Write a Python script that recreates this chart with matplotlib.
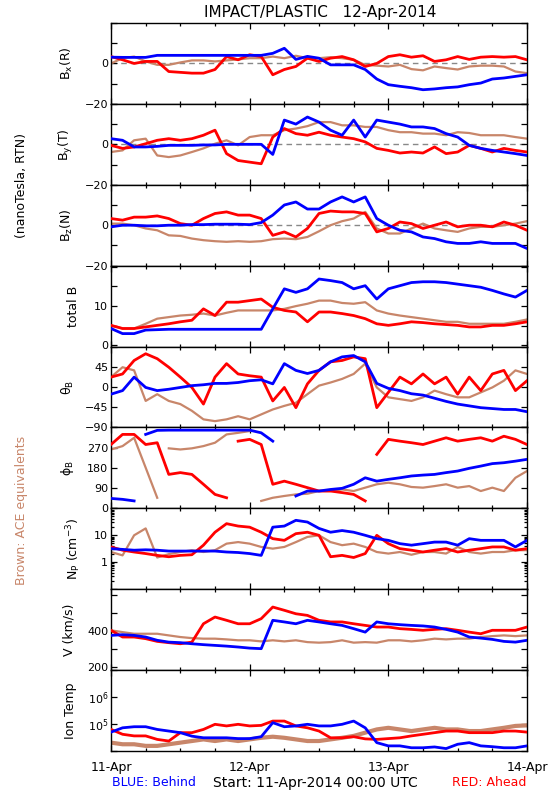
import numpy as np
import matplotlib.pyplot as plt
from matplotlib.ticker import FixedLocator, MultipleLocator, LogLocator, NullFormatter

plt.rcParams['font.family'] = ['DejaVu Sans']
plt.rcParams['mathtext.default'] = 'regular'

BLUE = '#0000ff'
RED = '#ff0000'
BROWN = '#c8866a'

# time axis: hours since 11-Apr-2014 00:00, one reading every 2 hours
hours = np.arange(0, 73, 2)
day_ticks = [0, 24, 48, 72]
day_labels = ['11-Apr', '12-Apr', '13-Apr', '14-Apr']

## magnetic field components (nT)
bx_blue = [3.1, 3, 3, 3, 4, 4, 4, 4, 4, 4, 4, 4, 4, 4, 5, 7.5, 2, 3.5, 2.6, -0.7, -0.7, -0.7, -3, -7.7,
           -10.5, -11.3, -12, -13, -12.6, -12, -11.6, -10.5, -9.7, -7.7, -7.2, -6.4, -5.6]
bx_red = [3.4, 1.8, 0, 1, 1, -4, -4.4, -4.8, -4.8, -3, 3.4, 1.8, 4.3, 3.4, -5.6, -3, -1.5, 2.6, 1, 2.6,
          3.4, 1.8, -1.5, 0, 3.4, 4.3, 3.1, 3.8, 1, 1.8, 3.4, 2, 3.1, 3.4, 3.1, 3.4, 1.8]
bx_ace = [0, 2.6, 3.4, 1, -0.7, -0.7, 0.5, 1.5, 1.5, 1, 1.5, 2, 2.6, 2.6, 3.4, 2.6, 3.8, 2.6, 2.6, 3.1,
          2.6, 1.8, -0.7, -1.1, -1.5, -0.7, -2.8, -3.4, -1.5, -2.3, -3, -1.5, -1.1, -1.1, -1.5, -4, -4.8]

by_blue = [2.8, 2, -1.3, -1.3, -1, -0.5, -0.5, -0.5, -0.3, -0.3, 0, 0, 0, 0, -5, 12, 10, 13.5, 11, 7,
           4.5, 12, 3.6, 12, 11, 10, 8.6, 8.6, 7.8, 5.3, 3.6, -0.5, -2, -3, -3.8, -4.6, -5.5]
by_red = [-0.5, -2, -1.3, 0.3, 2, 2.8, 2, 2.8, 4.5, 7, -4.6, -8, -8.8, -9.6, 3.6, 7.8, 5.3, 4.5, 6, 4.5,
          3.6, 2.8, 1.2, -2, -3, -4.3, -3.8, -4.3, -1.3, -4.6, -3.8, -0.5, -2, -3.8, -2, -3, -3.8]
by_ace = [-3.8, -3, 2, 2.8, -5.5, -6.3, -5.5, -3.8, -2, 0.3, 2, -0.5, 3.6, 4.5, 4.5, 7, 7.8, 9, 11, 11,
          9.4, 9.4, 8.6, 8.6, 7, 6, 6, 5.3, 5.3, 4.5, 6, 5.6, 4.5, 4.5, 4.5, 3.6, 2.8]

bz_blue = [-0.8, 0, 0, -0.3, -0.3, 0, 0, 0.3, 0.3, 0.5, 0.5, 0.5, 0.3, 1.3, 5, 10, 11.5, 8, 8, 11.5,
           14, 11.5, 14, 3.3, 0, -2.5, -3.3, -5.8, -6.6, -8.2, -9, -9, -8.2, -9, -9, -9, -11.5]
bz_red = [3.3, 2.5, 4, 4, 4.6, 3.3, 0.8, 0, 3.3, 5.8, 6.6, 5, 5, 3.3, -5, -3.3, -5.8, -1.6, 5.8, 7,
          6.6, 6.6, 5.8, -3.3, -1.6, 1.6, 0.8, -1.6, 0, 1.6, -0.8, 0, 0, -0.8, 1.6, 0, -2.5]
bz_ace = [0.8, 0.8, 0, -1.6, -2.5, -5, -5.3, -6.6, -7.4, -7.9, -8.2, -7.9, -8.2, -7.9, -6.9, -6.6, -6.9,
          -5.8, -3, 0, 2, 3.3, 6.6, -1.6, -4.1, -4.1, -1.6, 0.8, -1.6, -2.5, -3.3, -1.6, -0.8, -0.8, 0, 0.8, 2]

bt_blue = [4.3, 3, 3, 3.9, 4, 4.1, 4.1, 4.1, 4.1, 4.1, 4.1, 4.1, 4.1, 4.1, 9.3, 14.4, 13.5, 14.4, 16.9,
           16.5, 16, 14.4, 15.2, 11.8, 14.4, 15.2, 16, 16.2, 16.2, 16, 15.6, 15.2, 14.8, 14, 13.1, 12.3, 14]
bt_red = [5.1, 4.3, 4.3, 4.7, 5.1, 5.5, 6, 6.4, 9.3, 7.6, 11, 11, 11.4, 11.8, 9.7, 8.9, 8.5, 6, 8.5, 8.5,
          8.1, 7.6, 6.8, 5.5, 5.1, 5.5, 6, 5.8, 5.5, 5.3, 5.1, 4.7, 4.7, 5.1, 5.1, 5.5, 6]
bt_ace = [5.1, 4.3, 4.3, 5.5, 6.8, 7.2, 7.6, 7.8, 8.1, 7.6, 8.3, 8.9, 8.9, 8.9, 8.9, 9.3, 10, 10.6, 11.4,
          11.4, 10.8, 10.6, 11, 8.9, 8.1, 7.6, 7.2, 6.8, 6.4, 6, 6, 5.5, 5.5, 5.5, 5.5, 6, 6.6]

## field angles (deg)
th_blue = [-16, -8, 22, -1, -8, -5, -1, 3, 5, 8, 8, 10, 14, 16, 7, 52, 37, 30, 37, 56, 67, 70, 56, 8,
           -3, -8, -15, -18, -25, -32, -38, -42, -46, -48, -50, -50, -55]
th_red = [22, 29, 59, 74, 63, 44, 22, -1, -38, 22, 52, 29, 25, 22, -31, -1, -46, 7, 37, 56, 59, 67, 63,
          -46, -12, 22, 7, 29, 7, 22, -16, 22, -8, 29, 37, -8, 14]
th_ace = [22, 44, 37, -31, -16, -31, -38, -53, -72, -76, -72, -65, -72, -61, -50, -42, -35, -16, 3, 10,
          18, 29, 52, -1, -23, -27, -31, -23, -8, -16, -23, -23, -12, -1, 14, 37, 29]

ph_blue = [44, 40, 33, 329, 347, 348, 348, 348, 348, 348, 348, 348, 348, 336, 299, np.nan, 55, 77, 77,
           84, 89, 107, 136, 121, 129, 136, 144, 148, 151, 159, 166, 178, 188, 199, 203, 210, 218]
ph_red = [284, 329, 329, 284, 292, 151, 159, 151, 107, 62, 47, 299, 307, 284, 107, 121, 107, 92, 77, 77,
          70, 62, 33, 240, 307, 299, 292, 284, 299, 314, 299, 307, 314, 299, 321, 307, 284]
ph_ace = [262, 277, 314, 181, 47, 267, 262, 267, 277, 292, 329, 336, 344, 33, 47, 55, 62, 65, 77, 77, 84,
          77, 92, 107, 114, 107, 95, 92, 99, 107, 92, 99, 77, 92, 77, 136, 166]

## plasma
np_blue = [3.2, 3.0, 2.8, 2.9, 2.8, 2.6, 2.6, 2.6, 2.6, 2.6, 2.4, 2.3, 2.1, 1.8, 20, 22, 36, 31, 18, 13,
           15, 13, 10, 7.5, 6.5, 4.9, 4.3, 4.9, 5.6, 5.6, 4.3, 7.5, 6.5, 6.5, 6.5, 3.7, 6.5]
np_red = [3.7, 2.8, 2.4, 2.1, 1.8, 1.6, 1.8, 1.9, 4.3, 13, 27, 22, 20, 13, 7.5, 6.5, 11.5, 13, 10, 1.6,
          1.8, 1.5, 2.1, 10, 4.9, 3.2, 2.8, 2.4, 2.8, 3.2, 2.4, 2.8, 3.2, 3.7, 3.7, 2.8, 3.2]
np_ace = [2.4, 1.8, 10, 18, 1.5, 2.0, 2.4, 2.8, 2.4, 2.8, 4.9, 5.6, 4.9, 3.7, 3.2, 3.7, 5.6, 8.7, 10,
          5.6, 4.3, 4.9, 3.7, 2.4, 2.1, 2.4, 1.9, 2.4, 2.4, 2.1, 3.7, 2.4, 2.1, 2.4, 2.4, 2.8, 2.8]

v_blue = [376, 380, 376, 367, 349, 339, 336, 330, 325, 321, 317, 312, 306, 303, 459, 450, 440, 459, 450,
          440, 431, 413, 394, 450, 440, 435, 431, 428, 422, 409, 394, 367, 361, 354, 343, 339, 349]
v_red = [404, 367, 367, 358, 343, 336, 330, 339, 440, 477, 459, 440, 440, 468, 532, 514, 495, 486, 459,
         450, 450, 440, 431, 422, 422, 413, 409, 404, 409, 413, 404, 394, 385, 404, 404, 404, 422]
v_ace = [404, 394, 385, 385, 385, 376, 367, 361, 358, 358, 354, 349, 349, 343, 349, 343, 349, 339, 336,
         339, 349, 336, 339, 336, 349, 349, 343, 349, 358, 354, 358, 358, 367, 372, 376, 372, 376]

# ion temperature, log10(K)
lt_blue = [4.70, 4.86, 4.90, 4.90, 4.80, 4.74, 4.68, 4.55, 4.49, 4.49, 4.49, 4.46, 4.46, 4.53, 5.05, 4.90,
           4.93, 4.99, 4.93, 4.93, 4.99, 5.11, 4.86, 4.31, 4.19, 4.19, 4.12, 4.12, 4.15, 4.09, 4.25, 4.31,
           4.19, 4.16, 4.12, 4.12, 4.19]
lt_red = [4.80, 4.62, 4.56, 4.56, 4.43, 4.37, 4.68, 4.68, 4.80, 4.99, 4.93, 4.99, 4.93, 4.95, 5.11, 5.11,
          4.93, 4.86, 4.74, 4.49, 4.49, 4.53, 4.45, 4.43, 4.46, 4.49, 4.56, 4.62, 4.68, 4.74, 4.74, 4.68,
          4.68, 4.68, 4.74, 4.74, 4.70]
lt_ace = [4.31, 4.25, 4.25, 4.19, 4.19, 4.25, 4.31, 4.37, 4.43, 4.37, 4.43, 4.37, 4.43, 4.49, 4.53, 4.49,
          4.43, 4.37, 4.37, 4.43, 4.49, 4.56, 4.68, 4.80, 4.86, 4.80, 4.74, 4.80, 4.86, 4.80, 4.80, 4.74,
          4.74, 4.80, 4.86, 4.93, 4.95]


def wrap_breaks(x, y):
    # break the line where the angle wraps round 0/360
    x = np.asarray(x, float)
    y = np.asarray(y, float)
    idx = np.where(np.abs(np.diff(y)) > 180)[0] + 1
    return np.insert(x, idx, np.nan), np.insert(y, idx, np.nan)


fig = plt.figure(figsize=(5.5, 8), dpi=100)
W, H = 550.0, 800.0
left, width = 111 / W, 416 / W
top, ph = 23.0, 728.0 / 9
LW = (1.6, 2.0, 2.0)  # brown, red, blue


def panel(i):
    ax = fig.add_axes([left, 1 - (top + (i + 1) * ph) / H, width, ph / H])
    ax.set_xlim(0, 72)
    ax.xaxis.set_major_locator(FixedLocator(day_ticks))
    ax.xaxis.set_minor_locator(MultipleLocator(6))
    ax.tick_params(which='both', direction='in', top=True, right=True, labelsize=8, pad=2, width=0.9)
    ax.tick_params(which='major', length=4)
    ax.tick_params(which='minor', length=2.5)
    ax.tick_params(axis='x', labelbottom=False)
    for s in ax.spines.values():
        s.set_linewidth(1.0)
    return ax


def draw(ax, ace, red, blue, x=hours, lw=LW):
    ax.plot(x, ace, color=BROWN, lw=lw[0], zorder=2)
    ax.plot(x, red, color=RED, lw=lw[1], zorder=3)
    ax.plot(x, blue, color=BLUE, lw=lw[2], zorder=4)


def ylab(ax, text, xr):
    ax.set_ylabel(text, fontsize=9)
    ax.yaxis.set_label_coords((xr - 111) / 416.0, 0.5)


## B components
for i, (ace, red, blue, lab) in enumerate([(bx_ace, bx_red, bx_blue, 'B$_x$(R)'),
                                           (by_ace, by_red, by_blue, 'B$_y$(T)'),
                                           (bz_ace, bz_red, bz_blue, 'B$_z$(N)')]):
    ax = panel(i)
    ax.axhline(0, color='#888888', ls=(0, (4, 3)), lw=1, zorder=1)
    draw(ax, ace, red, blue)
    ax.set_ylim(-20, 20)
    ax.set_yticks([-20, -10, 0, 10, 20])
    ax.set_yticklabels(['\u221220', '', '0', '', ''])
    ylab(ax, lab, 75)

## total B
ax = panel(3)
draw(ax, bt_ace, bt_red, bt_blue)
ax.set_ylim(-0.3, 20.3)
ax.set_yticks([0, 5, 10, 15, 20])
ax.set_yticklabels(['0', '', '10', '', ''])
ylab(ax, 'total B', 80)

## theta
ax = panel(4)
draw(ax, th_ace, th_red, th_blue)
ax.set_ylim(-90, 90)
ax.set_yticks([-90, -45, 0, 45, 90])
ax.set_yticklabels(['\u221290', '\u221245', '0', '45', ''])
ylab(ax, r'$\theta_B$', 76)

## phi
ax = panel(5)
for y, c, z, w in [(ph_ace, BROWN, 2, LW[0]), (ph_red, RED, 3, LW[1]), (ph_blue, BLUE, 4, LW[2])]:
    xx, yy = wrap_breaks(hours, y)
    ax.plot(xx, yy, color=c, lw=w, zorder=z)
ax.set_ylim(0, 360)
ax.set_yticks([0, 90, 180, 270, 360])
ax.set_yticklabels(['0', '90', '180', '270', ''])
ylab(ax, r'$\phi_B$', 76)

## density
ax = panel(6)
draw(ax, np_ace, np_red, np_blue)
ax.set_yscale('log')
ax.set_ylim(0.1, 100)
ax.yaxis.set_major_locator(FixedLocator([0.1, 1, 10, 100]))
ax.set_yticklabels(['', '1', '10', ''])
ax.yaxis.set_minor_locator(LogLocator(base=10, subs=np.arange(2, 10)))
ax.yaxis.set_minor_formatter(NullFormatter())
ax.tick_params(axis='y', which='minor', length=2)
ylab(ax, 'N$_P$ (cm$^{-3}$)', 83)

## speed
ax = panel(7)
draw(ax, v_ace, v_red, v_blue)
ax.set_ylim(185, 630)
ax.set_yticks([200, 300, 400, 500, 600])
ax.set_yticklabels(['200', '', '400', '', ''])
ylab(ax, 'V (km/s)', 76)

## ion temperature
ax = panel(8)
draw(ax, 10 ** np.array(lt_ace), 10 ** np.array(lt_red), 10 ** np.array(lt_blue), lw=(3.0, 2.0, 2.0))
ax.set_yscale('log')
ax.set_ylim(1e4, 1e7)
ax.yaxis.set_major_locator(FixedLocator([1e4, 1e5, 1e6, 1e7]))
ax.set_yticklabels(['', '10$^5$', '10$^6$', ''])
ax.yaxis.set_minor_locator(FixedLocator([]))
ylab(ax, 'Ion Temp', 77)
ax.tick_params(axis='x', labelbottom=True, labelsize=9, pad=7)
ax.set_xticklabels(day_labels)

## annotations
fig.text(320 / W, 1 - 13 / H, 'IMPACT/PLASTIC   12-Apr-2014', ha='center', va='center', fontsize=11)
fig.text(22 / W, 1 - 186 / H, '(nanoTesla, RTN)', rotation=90, ha='center', va='center', fontsize=9)
fig.text(22 / W, 1 - 510 / H, 'Brown: ACE equivalents', rotation=90, ha='center', va='center',
         fontsize=9, color=BROWN)
fig.text(112 / W, 1 - 783 / H, 'BLUE: Behind', ha='left', va='center', fontsize=9, color=BLUE)
fig.text(213 / W, 1 - 783 / H, 'Start: 11-Apr-2014 00:00 UTC', ha='left', va='center', fontsize=10)
fig.text(526 / W, 1 - 783 / H, 'RED: Ahead', ha='right', va='center', fontsize=9, color=RED)

fig.savefig('out.png', dpi=100)
